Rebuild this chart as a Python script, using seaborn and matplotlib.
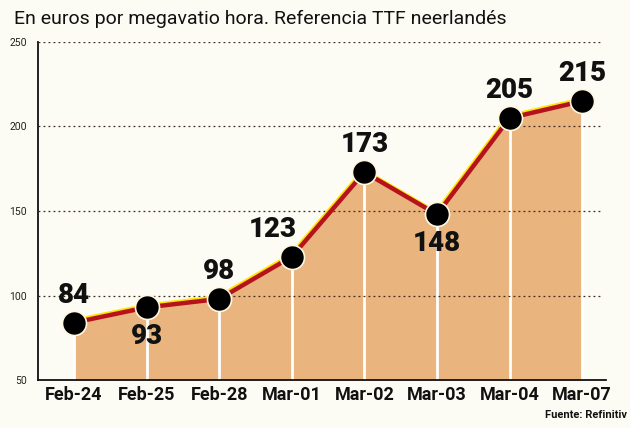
import matplotlib
matplotlib.use("Agg")
import matplotlib.pyplot as plt
import matplotlib.transforms as mtransforms
import seaborn as sns
import pandas as pd
import numpy as np

dates = ["Feb-24", "Feb-25", "Feb-28", "Mar-01", "Mar-02", "Mar-03", "Mar-04", "Mar-07"]
prices = [84, 93, 98, 123, 173, 148, 205, 215]
label_pos = ["above", "below", "above", "aboveleft", "above", "below", "above", "above"]
yticks = [50, 100, 150, 200, 250]

title = "En euros por megavatio hora. Referencia TTF neerlandés"
source = "Fuente: Refinitiv"

sns.set_style("white")
plt.rcParams["font.family"] = ["Roboto", "DejaVu Sans"]

bg = "#FDFCF4"
fig = plt.figure(figsize=(6.3, 4.28), dpi=100, facecolor=bg)
ax = fig.add_axes([0.060, 0.112, 0.902, 0.790])
ax.set_facecolor(bg)

df = pd.DataFrame({"pos": np.arange(len(dates)), "price": prices, "date": dates})

ax.fill_between(df["pos"], 50, df["price"], color="#E9B47E", lw=0, zorder=1)
for p, v in zip(df["pos"], df["price"]):
    ax.plot([p, p], [50, v], color="white", lw=2, zorder=2)

# gridlines
for t in yticks[1:]:
    ax.plot([-0.5, 7.25], [t, t], color="#3a2a20", lw=0.9, ls=(0, (1.5, 2.5)), zorder=3)

shift = mtransforms.offset_copy(ax.transData, fig=fig, x=-0.8, y=1.6, units="dots")
sns.lineplot(data=df, x="pos", y="price", ax=ax, color="#FFE600", lw=3.2,
             transform=shift, zorder=4)
sns.lineplot(data=df, x="pos", y="price", ax=ax, color="#B5121B", lw=3.2, zorder=5)
sns.scatterplot(data=df, x="pos", y="price", ax=ax, color="black", s=300,
                edgecolor="#FFF7E0", linewidth=1.2, zorder=6)

lab_kw = dict(textcoords="offset points", fontsize=20, fontweight="heavy", color="#111")
for p, v, lp in zip(df["pos"], df["price"], label_pos):
    if lp == "above":
        ax.annotate(str(v), (p, v), xytext=(0, 10), ha="center", va="bottom", **lab_kw)
    elif lp == "below":
        ax.annotate(str(v), (p, v), xytext=(0, -11), ha="center", va="top", **lab_kw)
    else:
        ax.annotate(str(v), (p, v), xytext=(-14, 10), ha="center", va="bottom", **lab_kw)

ax.set_xlim(-0.5, 7.33)
ax.set_ylim(50, 250)
ax.set_xticks(df["pos"])
ax.set_xticklabels(dates, fontsize=13, fontweight="bold", color="#111")
ax.set_yticks(yticks)
ax.set_yticklabels([str(t) for t in yticks], fontsize=7.5, color="#222")
ax.tick_params(axis="both", length=0, pad=4)
ax.tick_params(axis="y", pad=8)
ax.set_xlabel("")
ax.set_ylabel("")
for s in ["top", "right"]:
    ax.spines[s].set_visible(False)
ax.spines["left"].set_color("#111")
ax.spines["bottom"].set_color("#111")
ax.spines["left"].set_linewidth(1.3)
ax.spines["bottom"].set_linewidth(1.3)

fig.text(0.022, 0.955, title, fontsize=14, color="#111", ha="left", va="center")
fig.text(0.995, 0.018, source, fontsize=8, fontweight="bold", color="#111", ha="right", va="bottom")

fig.savefig("out.png", dpi=100, facecolor=bg)
